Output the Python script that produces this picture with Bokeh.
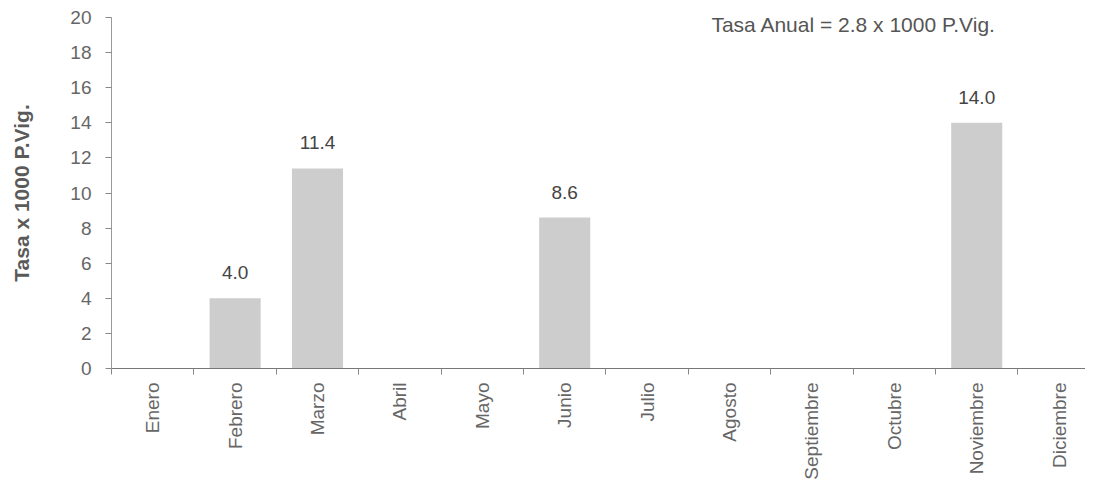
import math
from bokeh.plotting import figure
from bokeh.models import Range1d, FixedTicker, Label, ColumnDataSource
from bokeh.core.properties import value
from bokeh.embed import file_html
from bokeh.resources import INLINE

months = ["Enero", "Febrero", "Marzo", "Abril", "Mayo", "Junio", "Julio",
          "Agosto", "Septiembre", "Octubre", "Noviembre", "Diciembre"]
rates = [0.0, 4.0, 11.4, 0.0, 0.0, 8.6, 0.0, 0.0, 0.0, 0.0, 14.0, 0.0]
y_ticks = [0, 2, 4, 6, 8, 10, 12, 14, 16, 18, 20]
annual_text = "Tasa Anual = 2.8 x 1000 P.Vig."
y_title = "Tasa x 1000 P.Vig."

FONT = "Liberation Sans"

centers = [i + 0.5 for i in range(len(months))]
bounds = list(range(len(months) + 1))

p = figure(frame_width=974, frame_height=351, output_backend="svg",
           toolbar_location=None,
           x_range=Range1d(0, 11.82), y_range=Range1d(0, 20),
           min_border_left=111, min_border_right=0, min_border_top=17,
           min_border_bottom=100)
p.outline_line_color = None
p.xgrid.visible = False
p.ygrid.visible = False
p.background_fill_color = "white"
p.border_fill_color = "white"

src = ColumnDataSource(dict(x=centers, top=rates, month=months))
p.vbar(x="x", top="top", width=0.62, source=src, fill_color="#cdcdcd",
       line_color=None)

lab_x = [c for c, v in zip(centers, rates) if v > 0]
lab_y = [v for v in rates if v > 0]
lab_t = ["%.1f" % v for v in rates if v > 0]
p.text(x=lab_x, y=lab_y, text=lab_t, text_align="center",
       text_baseline="bottom", y_offset=-19, text_font=value(FONT),
       text_font_size="19px", text_color="#444444")

p.add_layout(Label(x=7.28, y=18.95, text=annual_text, text_font=FONT,
                   text_font_size="21px", text_color="#555555",
                   text_baseline="bottom"))

# x axis
xa = p.xaxis[0]
xa.ticker = FixedTicker(ticks=centers, minor_ticks=bounds)
xa.major_label_overrides = {c: m for c, m in zip(centers, months)}
xa.major_label_orientation = math.pi / 2
xa.major_tick_line_color = None
xa.major_tick_out = 0
xa.major_tick_in = 0
xa.minor_tick_line_color = "#888888"
xa.minor_tick_out = 6
xa.minor_tick_in = 0
xa.major_label_standoff = 8
xa.major_label_text_font = FONT
xa.major_label_text_font_size = "19px"
xa.major_label_text_color = "#666666"
xa.axis_line_color = "#777777"

# y axis
ya = p.yaxis[0]
ya.ticker = FixedTicker(ticks=y_ticks)
ya.minor_tick_line_color = None
ya.major_tick_in = 0
ya.major_tick_out = 6
ya.major_tick_line_color = "#888888"
ya.axis_line_color = "#999999"
ya.major_label_standoff = 14
ya.major_label_text_font = FONT
ya.major_label_text_font_size = "19px"
ya.major_label_text_color = "#666666"
ya.axis_label = y_title
ya.axis_label_text_font = FONT
ya.axis_label_text_font_size = "21px"
ya.axis_label_text_font_style = "bold"
ya.axis_label_text_color = "#5a5a5a"
ya.axis_label_standoff = 34

open("out.html", "w").write(file_html(p, INLINE))
